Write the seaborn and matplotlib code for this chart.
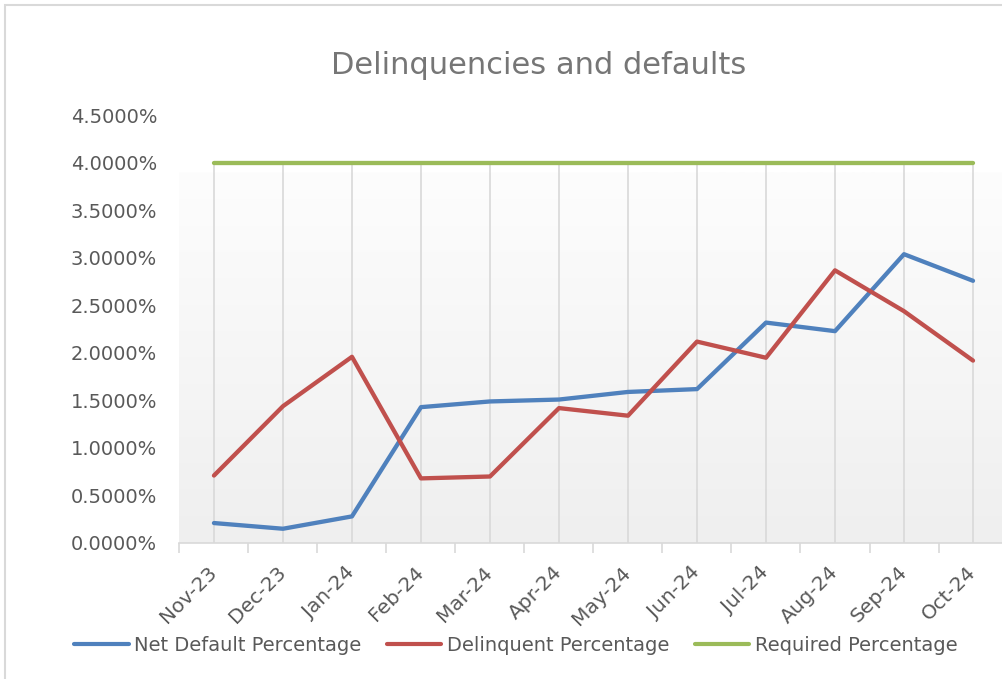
import matplotlib
matplotlib.use("Agg")
import matplotlib.pyplot as plt
from matplotlib.ticker import PercentFormatter, FixedLocator
from matplotlib.lines import Line2D
from matplotlib.patches import Rectangle
import numpy as np
import pandas as pd
import seaborn as sns

# chart data (fractions, shown as percent)
months = ["Nov-23", "Dec-23", "Jan-24", "Feb-24", "Mar-24", "Apr-24",
          "May-24", "Jun-24", "Jul-24", "Aug-24", "Sep-24", "Oct-24"]
net_default = [0.0021, 0.0015, 0.0028, 0.0143, 0.0149, 0.0151,
               0.0159, 0.0162, 0.0232, 0.0223, 0.0304, 0.0276]
delinquent = [0.0071, 0.0144, 0.0196, 0.0068, 0.0070, 0.0142,
              0.0134, 0.0212, 0.0195, 0.0287, 0.0244, 0.0192]
required = [0.04] * 12

series_names = ["Net Default Percentage", "Delinquent Percentage", "Required Percentage"]
colors = ["#4f81bd", "#c0504d", "#9bbb59"]

df = pd.DataFrame({
    "pos": list(range(len(months))) * 3,
    "value": net_default + delinquent + required,
    "series": [series_names[0]] * 12 + [series_names[1]] * 12 + [series_names[2]] * 12,
})

sns.set_style("white")
plt.rcParams["font.family"] = ["DejaVu Sans"]
text_gray = "#595959"
grid_gray = "#d9d9d9"

fig = plt.figure(figsize=(10.02, 6.79), dpi=100)
ax = fig.add_axes([0.1791, 0.2003, 0.8264, 0.6296])

# outer chart border (only top/left visible in the crop)
fig.patches.append(Rectangle((5 / 1002, -0.1), 1.2, (674 / 679) + 0.1,
                             transform=fig.transFigure, fill=False,
                             edgecolor=grid_gray, linewidth=1.5))

# gradient fill of the plot area
grad = np.linspace(0, 1, 256).reshape(-1, 1)
cmap = matplotlib.colors.LinearSegmentedColormap.from_list("g", ["#fdfdfd", "#efefef"])
ax.imshow(grad, aspect="auto", cmap=cmap, extent=[-0.5, 11.5, 0.0, 0.039],
          origin="upper", zorder=0)

# vertical gridlines at categories
ax.vlines(range(len(months)), 0, required[0], colors=grid_gray, linewidth=1.2, zorder=1)

sns.lineplot(data=df, x="pos", y="value", hue="series", palette=colors,
             linewidth=3.1, sort=False, ax=ax, legend=False, zorder=3)
for ln in ax.get_lines():
    ln.set_solid_capstyle("round")

ax.set_xlim(-0.5, 11.5)
ax.set_ylim(0, 0.045)
ax.set_xlabel("")
ax.set_ylabel("")

ax.yaxis.set_major_locator(FixedLocator(np.arange(0, 0.0451, 0.005)))
ax.yaxis.set_major_formatter(PercentFormatter(xmax=1, decimals=4))
ax.tick_params(axis="y", length=0, pad=16, labelsize=14, labelcolor=text_gray)

ax.set_xticks(range(len(months)))
ax.set_xticklabels(months, rotation=45, ha="right", va="center",
                   rotation_mode="anchor")
ax.set_xticks(np.arange(-0.5, 12, 1), minor=True)
ax.tick_params(axis="x", which="major", length=0, pad=19, labelsize=14.5,
               labelcolor=text_gray)
ax.tick_params(axis="x", which="minor", length=7, width=1.2, color=grid_gray,
               direction="out", bottom=True)

for side in ["left", "right", "top"]:
    ax.spines[side].set_visible(False)
ax.spines["bottom"].set_color(grid_gray)
ax.spines["bottom"].set_linewidth(1.2)
ax.patch.set_alpha(0)

fig.text(0.538, 0.903, "Delinquencies and defaults", ha="center", va="center",
         fontsize=22, color="#767676")

handles = [Line2D([0], [0], color=c, lw=3, solid_capstyle="round") for c in colors]
fig.legend(handles, series_names, loc="center", bbox_to_anchor=(0.515, 0.05),
           ncol=3, frameon=False, fontsize=14, handlelength=2.8,
           handletextpad=0.3, columnspacing=1.3, labelcolor=text_gray)

fig.savefig("out.png", dpi=100)
